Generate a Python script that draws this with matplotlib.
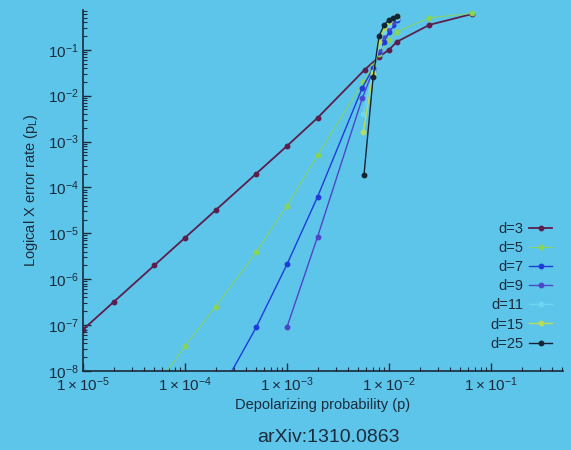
import numpy as np
import matplotlib
matplotlib.use('Agg')
import matplotlib.pyplot as plt

plt.rcParams['font.family'] = ['Liberation Sans', 'DejaVu Sans']
plt.rcParams['mathtext.default'] = 'regular'

p_d3 = [1e-5, 2e-5, 5e-5, 1e-4, 2e-4, 5e-4, 1e-3, 2e-3, 5.8e-3, 8e-3, 1e-2, 1.2e-2, 2.5e-2, 6.5e-2]
pl_d3 = [8e-8, 3.2e-7, 2e-6, 8e-6, 3.2e-5, 2e-4, 8e-4, 3.3e-3, 0.037, 0.07, 0.1, 0.15, 0.35, 0.6]

p_d5 = [5e-5, 1e-4, 2e-4, 5e-4, 1e-3, 2e-3, 5.6e-3, 7e-3, 8e-3, 1e-2, 1.2e-2, 2.5e-2, 6.5e-2]
pl_d5 = [4e-9, 3.5e-8, 2.5e-7, 3.9e-6, 4e-5, 5e-4, 0.02, 0.045, 0.08, 0.16, 0.25, 0.5, 0.62]

p_d7 = [2e-4, 5e-4, 1e-3, 2e-3, 5.5e-3, 7e-3, 8e-3, 9e-3, 1e-2, 1.1e-2, 1.2e-2]
pl_d7 = [2.3e-9, 9e-8, 2.1e-6, 6.3e-5, 0.015, 0.04, 0.09, 0.15, 0.25, 0.35, 0.45]

p_d9 = [1e-3, 2e-3, 5.5e-3, 7e-3, 8e-3, 9e-3, 1e-2, 1.1e-2, 1.2e-2]
pl_d9 = [9e-8, 8.5e-6, 9e-3, 0.035, 0.1, 0.2, 0.3, 0.4, 0.5]

p_d11 = [5.6e-3, 7e-3, 8e-3, 9e-3, 1e-2, 1.2e-2]
pl_d11 = [4e-3, 0.033, 0.12, 0.25, 0.35, 0.5]

p_d15 = [5.6e-3, 7e-3, 8e-3, 9e-3, 1e-2, 1.2e-2]
pl_d15 = [1.6e-3, 0.03, 0.15, 0.3, 0.4, 0.55]

p_d25 = [5.7e-3, 7e-3, 8e-3, 9e-3, 1e-2, 1.1e-2, 1.2e-2]
pl_d25 = [1.9e-4, 0.025, 0.2, 0.35, 0.45, 0.5, 0.55]

series = [
    ('d=3', p_d3, pl_d3, '#5a1f4c', 1.3),
    ('d=5', p_d5, pl_d5, '#86d45a', 0.7),
    ('d=7', p_d7, pl_d7, '#1f3bd8', 1.0),
    ('d=9', p_d9, pl_d9, '#4b47c8', 1.0),
    ('d=11', p_d11, pl_d11, '#6fd6f2', 1.0),
    ('d=15', p_d15, pl_d15, '#b7dc55', 1.0),
    ('d=25', p_d25, pl_d25, '#132433', 1.0),
]

bg = '#5ec5ea'
ink = '#1b2b3b'

fig = plt.figure(figsize=(5.71, 4.5), dpi=100, facecolor=bg)
ax = fig.add_axes([0.1454, 0.1756, 0.8406, 0.8024])
ax.set_facecolor(bg)

for name, p, pl, col, lw in series:
    ax.plot(p, pl, '-', color=col, lw=lw, marker='o', ms=3.2,
            mec=col, mfc=col, label=name)

ax.set_xscale('log')
ax.set_yscale('log')
ax.set_xlim(1e-5, 0.51)
ax.set_ylim(1e-8, 0.74)

ax.set_xticks([1e-5, 1e-4, 1e-3, 1e-2, 1e-1])
ax.set_xticklabels([r'$1\times10^{-5}$', r'$1\times10^{-4}$', r'$1\times10^{-3}$',
                    r'$1\times10^{-2}$', r'$1\times10^{-1}$'])
ax.set_yticks([1e-8, 1e-7, 1e-6, 1e-5, 1e-4, 1e-3, 1e-2, 1e-1])
ax.set_yticklabels([r'$10^{-%d}$' % k for k in range(8, 0, -1)])

for s in ['top', 'right']:
    ax.spines[s].set_visible(False)
for s in ['left', 'bottom']:
    ax.spines[s].set_color(ink)
    ax.spines[s].set_linewidth(1.2)

ax.tick_params(which='major', direction='in', length=6, width=1, colors=ink,
               labelsize=11, pad=3)
ax.tick_params(which='minor', direction='in', length=3, width=0.8, colors=ink)

ax.set_xlabel('Depolarizing probability (p)', fontsize=10.5, color=ink, labelpad=3)
ax.set_ylabel(r'Logical X error rate (p$_L$)', fontsize=10.5, color=ink, labelpad=6)

leg = ax.legend(loc='lower right', bbox_to_anchor=(0.99, 0.04), frameon=False,
                markerfirst=False, fontsize=10.5, handlelength=1.6,
                handletextpad=0.4, labelspacing=0.35, borderaxespad=0)
for t in leg.get_texts():
    t.set_color(ink)

fig.text(0.575, 0.018, 'arXiv:1310.0863', fontsize=14, color=ink, ha='center')

fig.savefig('out.png', dpi=100, facecolor=bg)
